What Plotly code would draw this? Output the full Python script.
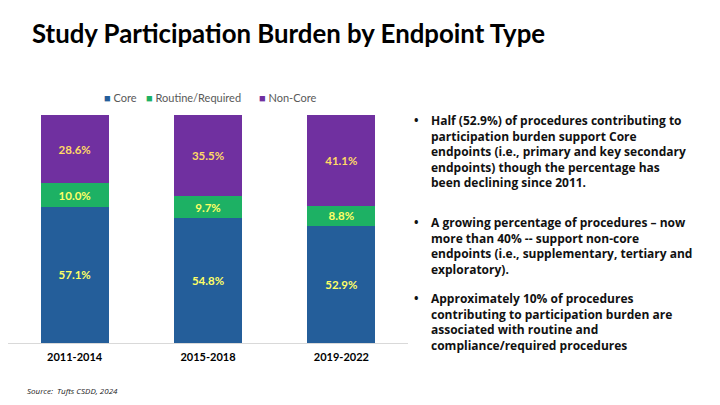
import plotly.graph_objects as go

categories = ["2011-2014", "2015-2018", "2019-2022"]
core = [57.1, 54.8, 52.9]
routine = [10.0, 9.7, 8.8]
noncore = [28.6, 35.5, 41.1]

series_names = ["Core", "Routine/Required", "Non-Core"]
series_values = [core, routine, noncore]
series_colors = ["#245E9A", "#1DB164", "#7030A0"]
label_colors = ["#FFFF66", "#FFFF66", "#FFD966"]

title_text = "Study Participation Burden by Endpoint Type"
bullets = [
    "Half (52.9%) of procedures contributing to<br>participation burden support Core<br>endpoints (i.e., primary and key secondary<br>endpoints) though the percentage has<br>been declining since 2011.",
    "A growing percentage of procedures – now<br>more than 40% -- support non-core<br>endpoints (i.e., supplementary, tertiary and<br>exploratory).",
    "Approximately 10% of procedures<br>contributing to participation burden are<br>associated with routine and<br>compliance/required procedures",
]
source_text = "Source:  Tufts CSDD, 2024"

W, H = 720, 405
OFF = 8  # page offset of the figure


def px(x):
    return (x - OFF) / W


def py(y):
    return (H - (y - OFF)) / H


fig = go.Figure()
for name, vals, col, lcol in zip(series_names, series_values, series_colors, label_colors):
    fig.add_trace(go.Bar(
        x=categories, y=vals, name=name,
        marker=dict(color=col, line=dict(width=0)),
        text=[f"{v:.1f}%" for v in vals],
        texttemplate="<b>%{text}</b>",
        textposition="inside", insidetextanchor="middle",
        textfont=dict(family="Lato", size=11.5, color=lcol),
        hoverinfo="skip", showlegend=False,
    ))

fig.update_layout(
    width=W, height=H,
    barmode="stack", barnorm="percent", bargap=0.49,
    margin=dict(l=0, r=0, t=0, b=0),
    paper_bgcolor="white", plot_bgcolor="white",
    showlegend=False,
    xaxis=dict(domain=[px(8), px(408)], showline=True, linecolor="#D9D9D9", linewidth=1,
               ticks="", tickfont=dict(family="Lato", size=11, color="black"),
               ticklabelstandoff=4,
               tickprefix="<b>", ticksuffix="</b>", showgrid=False, fixedrange=True),
    yaxis=dict(domain=[py(343), py(115)], range=[0, 100], visible=False,
               showgrid=False, fixedrange=True),
)

# legend row
legend_x = [102, 144, 257]
for name, col, lx in zip(series_names, series_colors, legend_x):
    fig.add_annotation(text=f"<span style='color:{col}'>■</span> {name}", xref="paper", yref="paper",
                       x=px(lx), y=py(97), xanchor="left", yanchor="middle", showarrow=False,
                       font=dict(family="Lato", size=11, color="#595959"))

fig.add_annotation(text=f"<b>{title_text}</b>", xref="paper", yref="paper",
                   x=px(30), y=py(33), xanchor="left", yanchor="middle", showarrow=False,
                   font=dict(family="Lato", size=25.8, color="black"))

bullet_y = [110, 212, 288]
for txt, yy in zip(bullets, bullet_y):
    fig.add_annotation(text=f"<b>{txt}</b>", xref="paper", yref="paper",
                       x=px(429), y=py(yy), xanchor="left", yanchor="top", align="left",
                       showarrow=False, font=dict(family="Open Sans", size=12, color="#111111"))
    fig.add_annotation(text="<b>•</b>", xref="paper", yref="paper",
                       x=px(412), y=py(yy), xanchor="left", yanchor="top",
                       showarrow=False, font=dict(family="Open Sans", size=12, color="#111111"))

fig.add_annotation(text=f"<i>{source_text}</i>", xref="paper", yref="paper",
                   x=px(25), y=py(390), xanchor="left", yanchor="middle", showarrow=False,
                   font=dict(family="Open Sans", size=8, color="#222222"))

fig.write_html("out.html")
